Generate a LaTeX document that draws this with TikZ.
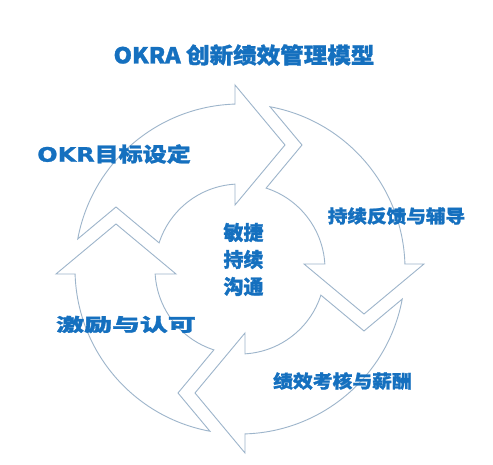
\documentclass[tikz,border=0pt]{standalone}
\usepackage{fontspec}
\newfontfamily\cjk{Noto Sans CJK SC}[BoldFeatures={FakeBold=1.3}]
\newfontfamily\dvs{DejaVu Sans}[BoldFeatures={FakeBold=1}]
\definecolor{okblue}{HTML}{1570BF}
\definecolor{arrowline}{HTML}{9DB5CB}
\tikzset{
  arrowshape/.style={draw=arrowline, fill=white, line width=0.9pt, line join=miter},
  lbl/.style={text=okblue, inner sep=0pt, font=\cjk\bfseries},
}
\begin{document}
\begin{tikzpicture}[x=1pt,y=1pt]
\useasboundingbox (0,0) rectangle (493,465);
\fill[white] (0,0) rectangle (493,465);
\foreach \k in {0,1,2,3}{
  \begin{scope}[shift={(240,196)}, rotate=-90*\k]
    \draw[arrowshape] (169.5:165) arc[start angle=169.5, end angle=91.74, radius=165]
      -- (-5,184) -- (45,124) -- (-5,64) -- (93.37:85)
      arc[start angle=93.37, end angle=162.1, radius=85]
      -- (-124,62) -- cycle;
  \end{scope}
}
\node[lbl] (title) at (244,410) {\fontsize{22}{26}\selectfont\scalebox{1.07}[1]{OKRA 创新绩效管理模型}};
\node[lbl] (okr) at (114,311) {\fontsize{20}{24}\selectfont\scalebox{1.2}[1]{{\dvs\bfseries OKR}目标设定}};
\node[lbl] (feedback) at (396.5,249) {\fontsize{18}{22}\selectfont\scalebox{1.09}[1]{持续反馈与辅导}};
\node[lbl] (reward) at (126,140.5) {\fontsize{18}{22}\selectfont\scalebox{1.55}[1]{激励与认可}};
\node[lbl] (review) at (342.5,84) {\fontsize{18}{22}\selectfont\scalebox{1.1}[1]{绩效考核与薪酬}};
\node[lbl, align=center, font={\cjk\bfseries\fontsize{20}{27}\selectfont}] (core) at (243.5,205.5) {敏捷\\持续\\沟通};
\end{tikzpicture}
\end{document}
